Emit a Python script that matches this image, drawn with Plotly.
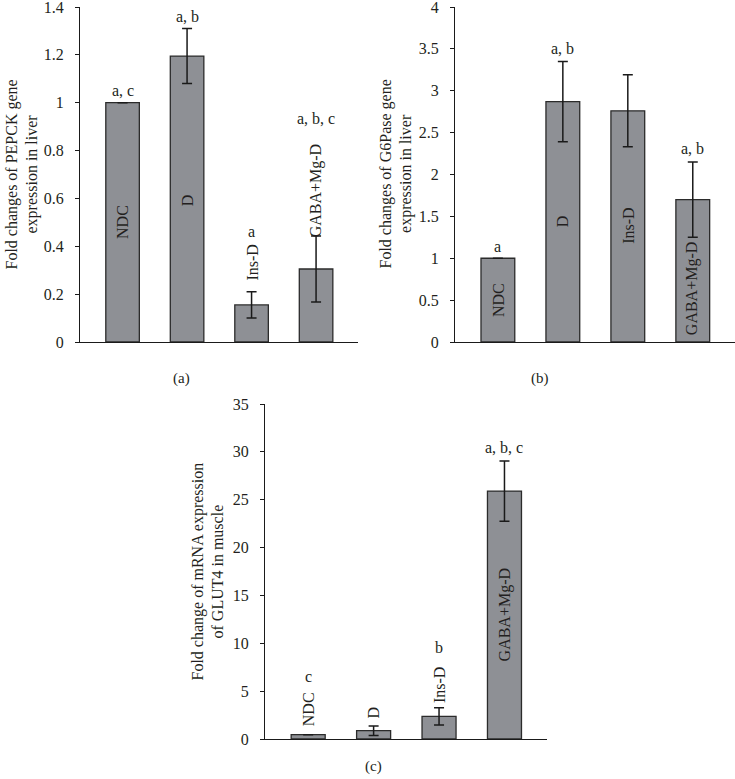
import plotly.graph_objects as go

categories = ["NDC", "D", "Ins-D", "GABA+Mg-D"]

# Panel (a): PEPCK
pepck_vals = [1.0, 1.195, 0.155, 0.305]
pepck_err = [0.0, 0.115, 0.055, 0.138]
pepck_letters = ["a, c", "a, b", "a", "a, b, c"]
pepck_letter_y = [1.053, 1.362, 0.46, 0.936]
pepck_label_y = [0.50, 0.593, 0.33, 0.63]

# Panel (b): G6Pase
g6p_vals = [1.0, 2.87, 2.76, 1.70]
g6p_err = [0.0, 0.48, 0.43, 0.45]
g6p_letters = ["a", "a, b", "", "a, b"]
g6p_letter_y = [1.135, 3.50, 0.0, 2.31]
g6p_label_y = [0.50, 1.44, 1.385, 0.64]

# Panel (c): GLUT4
glut_vals = [0.45, 0.87, 2.37, 25.9]
glut_err = [0.0, 0.5, 0.9, 3.15]
glut_letters = ["c", "", "b", "a, b, c"]
glut_letter_y = [6.48, 0.0, 9.6, 30.5]
glut_label_y = [3.13, 2.72, 5.64, 12.96]

W, H = 735, 779
FONT = "Liberation Serif"
TXT = "#231f20"
BAR = "#8e9095"

def px_x(p):
    return p / W

def px_y(p):
    return 1 - p / H

fig = go.Figure()

panels = [
    dict(vals=pepck_vals, err=pepck_err, letters=pepck_letters, ly=pepck_letter_y, by=pepck_label_y,
         xa="x", ya="y", xdom=[px_x(80), px_x(358)], ydom=[px_y(342), px_y(7)],
         yr=[0, 1.4], dt=0.2, title="Fold changes of PEPCK gene<br>expression in liver",
         tx=22, ty=174.5, tag="(a)", tagx=181, tagy=378),
    dict(vals=g6p_vals, err=g6p_err, letters=g6p_letters, ly=g6p_letter_y, by=g6p_label_y,
         xa="x2", ya="y2", xdom=[px_x(455), px_x(735)], ydom=[px_y(342), px_y(7)],
         yr=[0, 4], dt=0.5, title="Fold changes of G6Pase gene<br>expression in liver",
         tx=396, ty=174.5, tag="(b)", tagx=540, tagy=378),
    dict(vals=glut_vals, err=glut_err, letters=glut_letters, ly=glut_letter_y, by=glut_label_y,
         xa="x3", ya="y3", xdom=[px_x(265), px_x(547)], ydom=[px_y(739), px_y(404)],
         yr=[0, 35], dt=5, title="Fold change of mRNA expression<br>of GLUT4 in muscle",
         tx=207, ty=571.5, tag="(c)", tagx=373, tagy=766),
]

annotations = []
for i, p in enumerate(panels):
    fig.add_trace(go.Bar(
        x=list(range(len(categories))), y=p["vals"],
        xaxis=p["xa"], yaxis=p["ya"],
        marker=dict(color=BAR, line=dict(color="#2b2b2b", width=1.3)),
        error_y=dict(type="data", array=p["err"], visible=True, color="#1a1a1a",
                     thickness=1.5, width=5),
        width=0.52, showlegend=False, hoverinfo="skip", cliponaxis=False,
    ))
    suffix = "" if i == 0 else str(i + 1)
    fig.update_layout(**{
        "xaxis" + suffix: dict(domain=p["xdom"], range=[-0.66, 3.65], showticklabels=False,
                               ticks="", showgrid=False, zeroline=False, showline=True,
                               linecolor="#1a1a1a", linewidth=1, anchor=p["ya"], fixedrange=True,
                               automargin=False),
        "yaxis" + suffix: dict(domain=p["ydom"], range=p["yr"], dtick=p["dt"], tick0=0,
                               showgrid=False, zeroline=False, showline=True,
                               linecolor="#1a1a1a", linewidth=1, ticks="outside", ticklen=4,
                               tickcolor="#1a1a1a", anchor=p["xa"], automargin=False,
                               ticklabeloverflow="allow", ticklabelstandoff=8,
                               tickfont=dict(family=FONT, size=16, color=TXT), fixedrange=True),
    })
    xref = p["xa"]
    yref = p["ya"]
    for j, cat in enumerate(categories):
        annotations.append(dict(x=j, y=p["by"][j], xref=xref, yref=yref, text=cat,
                                textangle=-90, showarrow=False,
                                xanchor="center", yanchor="middle",
                                font=dict(family=FONT, size=16, color=TXT)))
        if p["letters"][j]:
            annotations.append(dict(x=j, y=p["ly"][j], xref=xref, yref=yref, text=p["letters"][j],
                                    showarrow=False, xanchor="center", yanchor="middle",
                                    font=dict(family=FONT, size=16, color=TXT)))
    annotations.append(dict(x=px_x(p["tx"]), y=px_y(p["ty"]), xref="paper", yref="paper",
                            text=p["title"], textangle=-90, showarrow=False,
                            xanchor="center", yanchor="middle",
                            font=dict(family=FONT, size=16, color=TXT)))
    annotations.append(dict(x=px_x(p["tagx"]), y=px_y(p["tagy"]), xref="paper", yref="paper",
                            text=p["tag"], showarrow=False, xanchor="center", yanchor="middle",
                            font=dict(family=FONT, size=15, color=TXT)))

fig.update_layout(
    width=W, height=H, margin=dict(l=0, r=0, t=0, b=0),
    paper_bgcolor="white", plot_bgcolor="white",
    annotations=annotations, showlegend=False,
)

fig.write_html("out.html", config={"displayModeBar": False},
               post_script="document.body.style.margin='0px';")
